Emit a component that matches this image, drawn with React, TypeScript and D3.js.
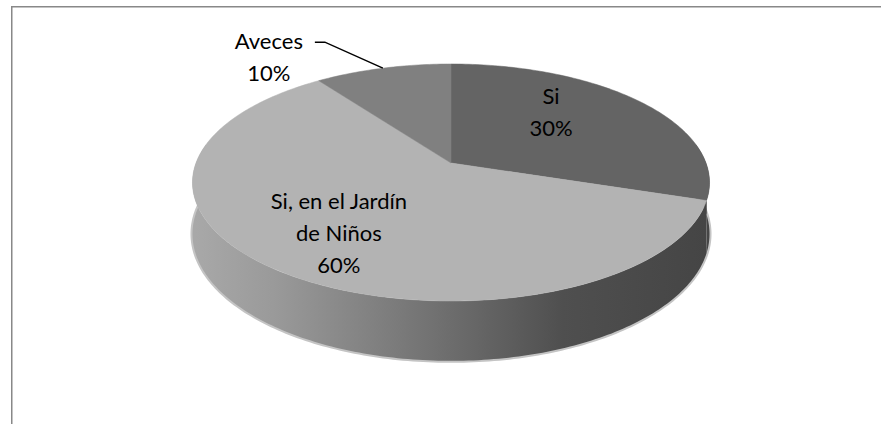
import React from 'react';
import * as d3 from 'd3';

// slices, clockwise from 12 o'clock
const categories = ['Si', 'Si, en el Jardín de Niños', 'Aveces'];
const values = [30, 60, 10];
const labelLines = [['Si', '30%'], ['Si, en el Jardín', 'de Niños', '60%'], ['Aveces', '10%']];
const topColors = ['#646464', '#b3b3b3', '#808080'];

const W = 881, H = 424;
// perspective ellipse
const CX = 451, CY = 163, RX = 255, RY = 115.3, P = 0.1646, DEPTH = 50;

function proj(theta: number, f: number, drop: number): [number, number] {
  const a = Math.sin(theta) * f, b = -Math.cos(theta) * f;
  const w = 1 - P * b;
  return [CX + RX * a / w, CY + (RY * b + drop) / w];
}

function arcPts(t0: number, t1: number, drop: number) {
  const n = Math.max(8, Math.ceil(Math.abs(t1 - t0) * 60));
  return d3.range(n + 1).map(i => proj(t0 + (t1 - t0) * i / n, 1, drop));
}

const line = d3.line();

export default function App() {
  const pie = d3.pie<number>().sort(null).startAngle(0).endAngle(2 * Math.PI);
  const arcs = pie(values);

  const tops = arcs.map(a => {
    const pts = [proj(0, 0, 0), ...arcPts(a.startAngle, a.endAngle, 0)];
    return line(pts) + 'Z';
  });

  // side band only on the front half (angles between 90 and 270 deg, plus a bit)
  const lo = Math.PI / 2 - 0.17, hi = 3 * Math.PI / 2 + 0.17;
  const sides = arcs.map(a => {
    const s = Math.max(a.startAngle, lo), e = Math.min(a.endAngle, hi);
    if (e <= s) return null;
    const pts = [...arcPts(s, e, 0), ...arcPts(e, s, DEPTH)];
    return line(pts) + 'Z';
  });
  const sideFill = ['#464646', 'url(#sideGrad)', '#6a6a6a'];

  const rim = line(arcPts(lo, hi, DEPTH));

  // label anchors
  const mid = (a: d3.PieArcDatum<number>) => (a.startAngle + a.endAngle) / 2;
  const siPos = proj(mid(arcs[0]) - 0.22, 0.64, 0);
  const jPos = proj(mid(arcs[1]), 0.68, 0);
  const avEdge = proj(mid(arcs[2]), 1, 0);
  const elbow: [number, number] = [avEdge[0] - 58, avEdge[1] - 26];
  const avPos: [number, number] = [elbow[0] - 56, elbow[1] + 15];

  const lh = 32;
  const font = { fontFamily: 'Lato, Calibri, sans-serif', fontSize: 22, fill: '#000' };

  const label = (lines: string[], x: number, cy: number, key: string) => (
    <text key={key} x={x} textAnchor="middle" style={font}>
      {lines.map((l, i) => (
        <tspan key={i} x={x} y={cy + (i - (lines.length - 1) / 2) * lh + 8}>{l}</tspan>
      ))}
    </text>
  );

  return (
    <div style={{ position: 'absolute', left: 0, top: 0 }}>
      <svg width={W} height={H} style={{ display: 'block', background: '#fff' }}>
        <defs>
          <linearGradient id="sideGrad" gradientUnits="userSpaceOnUse" x1={CX - RX} x2={CX + RX} y1={0} y2={0}>
            <stop offset="0" stopColor="#a8a8a8" />
            <stop offset="0.15" stopColor="#9a9a9a" />
            <stop offset="0.4" stopColor="#7a7a7a" />
            <stop offset="0.55" stopColor="#666666" />
            <stop offset="0.72" stopColor="#4f4f4f" />
            <stop offset="1" stopColor="#454545" />
          </linearGradient>
        </defs>
        <rect x={11.75} y={6.75} width={1000} height={1000} fill="none" stroke="#888" strokeWidth={1.5} />
        <path d={rim || ''} fill="none" stroke="#c4c4c4" strokeWidth={4} />
        {sides.map((d, i) => d && <path key={'s' + i} d={d} fill={sideFill[i]} />)}
        {tops.map((d, i) => <path key={'t' + i} d={d} fill={topColors[i]} stroke={topColors[i]} strokeWidth={0.5} />)}
        <polyline
          points={[avEdge, elbow, [elbow[0] - 10, elbow[1]]].map(p => p.join(',')).join(' ')}
          fill="none" stroke="#000" strokeWidth={1.5} />
        {label(labelLines[0], siPos[0], siPos[1], categories[0])}
        {label(labelLines[1], jPos[0], jPos[1], categories[1])}
        {label(labelLines[2], avPos[0], avPos[1], categories[2])}
      </svg>
    </div>
  );
}
